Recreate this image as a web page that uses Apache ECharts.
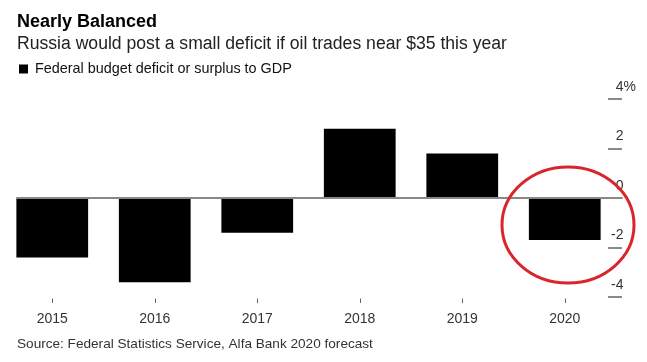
<!DOCTYPE html>
<html>
<head>
<meta charset="utf-8">
<script src="https://cdn.jsdelivr.net/npm/echarts@6/dist/echarts.min.js"></script>
<style>
html,body{margin:0;padding:0;background:#fff;}
#chart{width:647px;height:362px;}
</style>
</head>
<body>
<div id="chart"></div>
<script>
var categories = ['2015', '2016', '2017', '2018', '2019', '2020'];
var balanceValues = [-2.4, -3.4, -1.4, 2.8, 1.8, -1.7];
var yTickValues = [-4, -2, 0, 2, 4];
var seriesName = 'Federal budget deficit or surplus to GDP';

var FONT = "'Liberation Sans', Arial, Helvetica, sans-serif";
var chart = echarts.init(document.getElementById('chart'), null, {renderer: 'canvas'});

var option = {
  backgroundColor: '#fff',
  animation: false,
  title: [
    {text: 'Nearly Balanced', left: 12, top: 8,
     textStyle: {fontFamily: FONT, fontSize: 18, fontWeight: 'bold', color: '#000'}},
    {text: 'Russia would post a small deficit if oil trades near $35 this year', left: 12, top: 30,
     textStyle: {fontFamily: FONT, fontSize: 17.6, fontWeight: 'normal', color: '#222'}},
    {text: 'Source: Federal Statistics Service, Alfa Bank 2020 forecast', left: 12, top: 332,
     textStyle: {fontFamily: FONT, fontSize: 13.6, fontWeight: 'normal', color: '#333'}}
  ],
  legend: {
    left: 19, top: 62, padding: 0,
    icon: 'rect', itemWidth: 9, itemHeight: 9,
    data: [seriesName],
    textStyle: {fontFamily: FONT, fontSize: 14.4, color: '#111', padding: [0, 0, 0, 2]}
  },
  grid: [
    {left: 1, right: 31, top: 99, bottom: 65},
    {left: 17, right: 25, top: 99, bottom: 65}
  ],
  xAxis: [
    {type: 'category', gridIndex: 0, data: categories, boundaryGap: true,
     offset: 1.5,
     axisLine: {show: false, onZero: false},
     axisTick: {show: true, alignWithLabel: true, length: 4.5, lineStyle: {color: '#666', width: 1}},
     axisLabel: {fontFamily: FONT, fontSize: 14, color: '#333', margin: 14},
     splitLine: {show: false}},
    {type: 'value', gridIndex: 1, min: 0, max: 1, z: 5,
     axisLine: {show: true, onZero: true, lineStyle: {color: '#888', width: 2}},
     axisTick: {show: false}, axisLabel: {show: false}, splitLine: {show: false}}
  ],
  yAxis: [
    {type: 'value', gridIndex: 0, min: -4, max: 4, interval: 2, show: false},
    {type: 'value', gridIndex: 1, min: -4, max: 4, interval: 2, position: 'right', z: 5,
     axisLine: {show: false, onZero: false},
     splitLine: {show: false},
     axisTick: {show: true, inside: true, length: 14, lineStyle: {color: '#8a8a8a', width: 2}},
     axisLabel: {
       inside: true, margin: -14, verticalAlign: 'bottom', lineHeight: 14, padding: [0, 0, 5, 0],
       fontFamily: FONT, fontSize: 14, color: '#333',
       formatter: function (v) {
         if (v === yTickValues[yTickValues.length - 1]) return v + '%';
         return v + '{s|%}';
       },
       rich: {s: {fontFamily: FONT, fontSize: 14, color: 'rgba(0,0,0,0)', lineHeight: 14}}
     }}
  ],
  series: [
    {name: seriesName, type: 'bar', xAxisIndex: 0, yAxisIndex: 0,
     data: balanceValues, barCategoryGap: '30%',
     itemStyle: {color: '#000'}},
    {name: 'dummy', type: 'line', xAxisIndex: 1, yAxisIndex: 1, data: [], silent: true}
  ],
  graphic: [
    {type: 'ellipse', shape: {cx: 568, cy: 225, rx: 66, ry: 58}, z: 100,
     style: {fill: 'none', stroke: '#d8262c', lineWidth: 3}}
  ]
};
chart.setOption(option);
</script>
</body>
</html>
